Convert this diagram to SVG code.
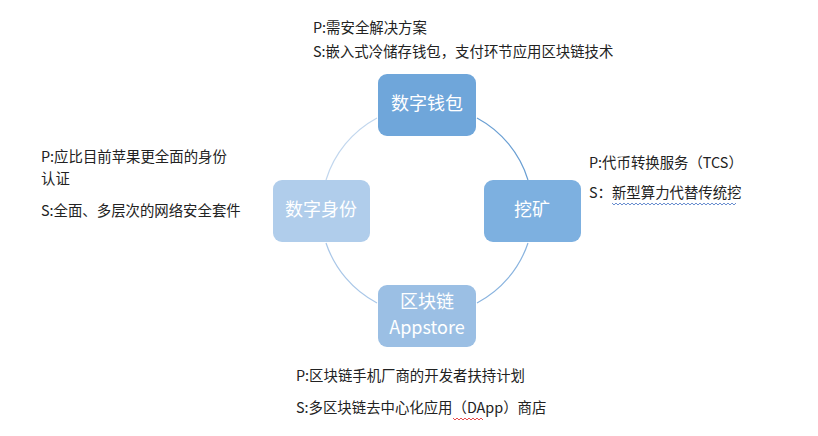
<svg xmlns="http://www.w3.org/2000/svg" width="818" height="436" viewBox="0 0 818 436">
<style>
.t{font-family:"Noto Sans CJK SC","Liberation Sans",sans-serif;font-size:14.4px;fill:#222}
.n{font-family:"Noto Sans CJK SC","Liberation Sans",sans-serif;font-size:18px;fill:#fff;text-anchor:middle}
.a{fill:none;stroke-width:1.2}
</style>
<rect width="818" height="436" fill="#fff"/>
<g id="connectors">
<path class="a" stroke="#6A9FD3" d="M477,118 A106,106 0 0 1 528,180"/>
<path class="a" stroke="#8AB4DF" d="M528,243 A106,106 0 0 1 477,303"/>
<path class="a" stroke="#A9C7E8" d="M377,303 A106,106 0 0 1 326,243"/>
<path class="a" stroke="#C2D7EE" d="M326,180 A106,106 0 0 1 377,118"/>
</g>
<g id="wallet"><rect x="378" y="74" width="98" height="62" rx="9" fill="#6FA6DA"/><text class="n" x="427" y="110">数字钱包</text></g>
<g id="mining"><rect x="484" y="180" width="97" height="62" rx="9" fill="#7DB0E0"/><text class="n" x="532" y="216">挖矿</text></g>
<g id="identity"><rect x="273" y="180" width="97" height="62" rx="9" fill="#B0CDEB"/><text class="n" x="321" y="216">数字身份</text></g>
<g id="appstore"><rect x="378" y="285" width="98" height="62" rx="9" fill="#9BBFE4"/><text class="n" x="427" y="308" font-size="17">区块链</text><text class="n" x="427" y="334" font-size="17">Appstore</text></g>
<g id="labels">
<text class="t" x="313" y="33">P:需安全解决方案</text>
<text class="t" x="313" y="57">S:嵌入式冷储存钱包，支付环节应用区块链技术</text>
<text class="t" x="589" y="168">P:代币转换服务（TCS）</text>
<text class="t" x="589" y="198">S：新型算力代替传统挖</text>
<path d="M612,203 l2,2 l2,-2 l2,2 l2,-2 l2,2 l2,-2 l2,2 l2,-2 l2,2 l2,-2 l2,2 l2,-2 l2,2 l2,-2 l2,2 l2,-2 l2,2 l2,-2 l2,2 l2,-2 l2,2 l2,-2 l2,2 l2,-2 l2,2 l2,-2 l2,2 l2,-2 l2,2 l2,-2 l2,2 l2,-2 l2,2 l2,-2 l2,2 l2,-2 l2,2 l2,-2 l2,2 l2,-2 l2,2 l2,-2 l2,2 l2,-2 l2,2 l2,-2 l2,2 l2,-2 l2,2 l2,-2 l2,2 l2,-2 l2,2 l2,-2 l2,2 l2,-2 l2,2 l2,-2 l2,2 l2,-2 l2,2 l2,-2" fill="none" stroke="#4472C4" stroke-width="0.8"/>
<text class="t" x="41" y="162">P:应比目前苹果更全面的身份</text>
<text class="t" x="41" y="184">认证</text>
<text class="t" x="41" y="216">S:全面、多层次的网络安全套件</text>
<text class="t" x="296" y="381">P:区块链手机厂商的开发者扶持计划</text>
<text class="t" x="296" y="413">S:多区块链去中心化应用（DApp）商店</text>
<path d="M453,418 l2,2 l2,-2 l2,2 l2,-2 l2,2 l2,-2 l2,2 l2,-2 l2,2 l2,-2 l2,2 l2,-2 l2,2 l2,-2 l2,2" fill="none" stroke="#E02020" stroke-width="0.8"/>
</g>
</svg>
